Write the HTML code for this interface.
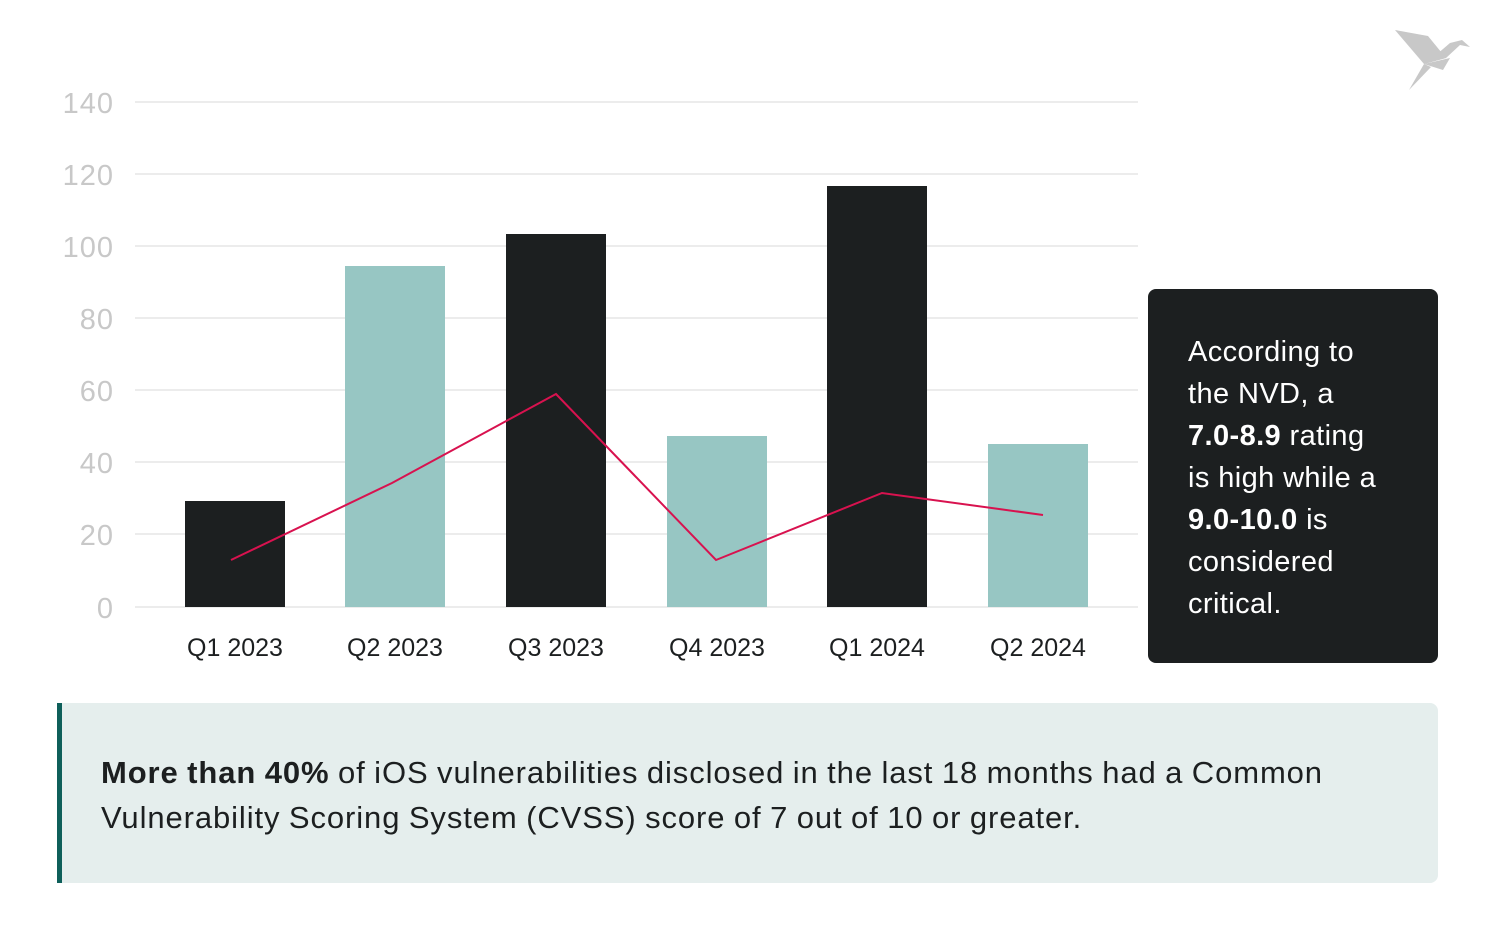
<!DOCTYPE html>
<html><head><style>
body{margin:0;width:1500px;height:943px;background:#fff;font-family:"Liberation Sans",sans-serif;position:relative;overflow:hidden}
.box{position:absolute;left:1148px;top:289px;width:290px;height:374px;background:#1c1f20;border-radius:8px;color:#fff;font-size:29px;line-height:42px;box-sizing:border-box;padding:42px 0 0 40px;letter-spacing:0.4px}
.note{position:absolute;left:57px;top:703px;width:1381px;height:180px;background:#e5eeed;border-radius:0 8px 8px 0;border-left:5px solid #0e5f5a;box-sizing:border-box;padding:47px 0 0 39px;font-size:31px;line-height:45px;color:#1c1f20;white-space:nowrap;letter-spacing:0.9px;word-spacing:-1px}
</style></head><body>
<svg width="1500" height="943" style="position:absolute;left:0;top:0">
<g stroke="#e6e6e6" stroke-width="1.5">
<line x1="135" x2="1138" y1="102" y2="102"/><line x1="135" x2="1138" y1="174" y2="174"/>
<line x1="135" x2="1138" y1="246" y2="246"/><line x1="135" x2="1138" y1="318" y2="318"/>
<line x1="135" x2="1138" y1="390" y2="390"/><line x1="135" x2="1138" y1="462" y2="462"/>
<line x1="135" x2="1138" y1="534" y2="534"/><line x1="135" x2="1138" y1="607" y2="607"/>
</g>
<g font-size="29" fill="#c8c8c8" text-anchor="end" font-family="Liberation Sans,sans-serif" letter-spacing="1">
<text x="114" y="113">140</text><text x="114" y="185">120</text><text x="114" y="257">100</text>
<text x="114" y="329">80</text><text x="114" y="401">60</text><text x="114" y="473">40</text>
<text x="114" y="545">20</text><text x="114" y="618">0</text>
</g>
<rect x="185" y="501" width="100" height="106" fill="#1c1f20"/>
<rect x="345" y="266" width="100" height="341" fill="#97c6c3"/>
<rect x="506" y="234" width="100" height="373" fill="#1c1f20"/>
<rect x="667" y="436" width="100" height="171" fill="#97c6c3"/>
<rect x="827" y="186" width="100" height="421" fill="#1c1f20"/>
<rect x="988" y="444" width="100" height="163" fill="#97c6c3"/>
<polyline points="231,560 392,483 556,394 716,560 882,493 1043,515" fill="none" stroke="#d8124f" stroke-width="2"/>
<g font-size="25" fill="#1c1f20" text-anchor="middle" font-family="Liberation Sans,sans-serif">
<text x="235" y="656">Q1 2023</text><text x="395" y="656">Q2 2023</text><text x="556" y="656">Q3 2023</text>
<text x="717" y="656">Q4 2023</text><text x="877" y="656">Q1 2024</text><text x="1038" y="656">Q2 2024</text>
</g>
<g fill="#c8c8c8">
<polygon points="1395,30 1428,36 1446,58 1424,64"/>
<polygon points="1424,64 1446,58 1460,45 1470,47 1462,40 1450,43 1436,55"/>
<polygon points="1424,64 1443,70 1450,58"/>
<polygon points="1424,64 1409,90 1431,67"/>
</g>
</svg>
<div class="box">According to<br>the NVD, a<br><b>7.0-8.9</b> rating<br>is high while a<br><b>9.0-10.0</b> is<br>considered<br>critical.</div>
<div class="note"><b>More than 40%</b> of iOS vulnerabilities disclosed in the last 18 months had a Common<br>Vulnerability Scoring System (CVSS) score of 7 out of 10 or greater.</div>
</body></html>
